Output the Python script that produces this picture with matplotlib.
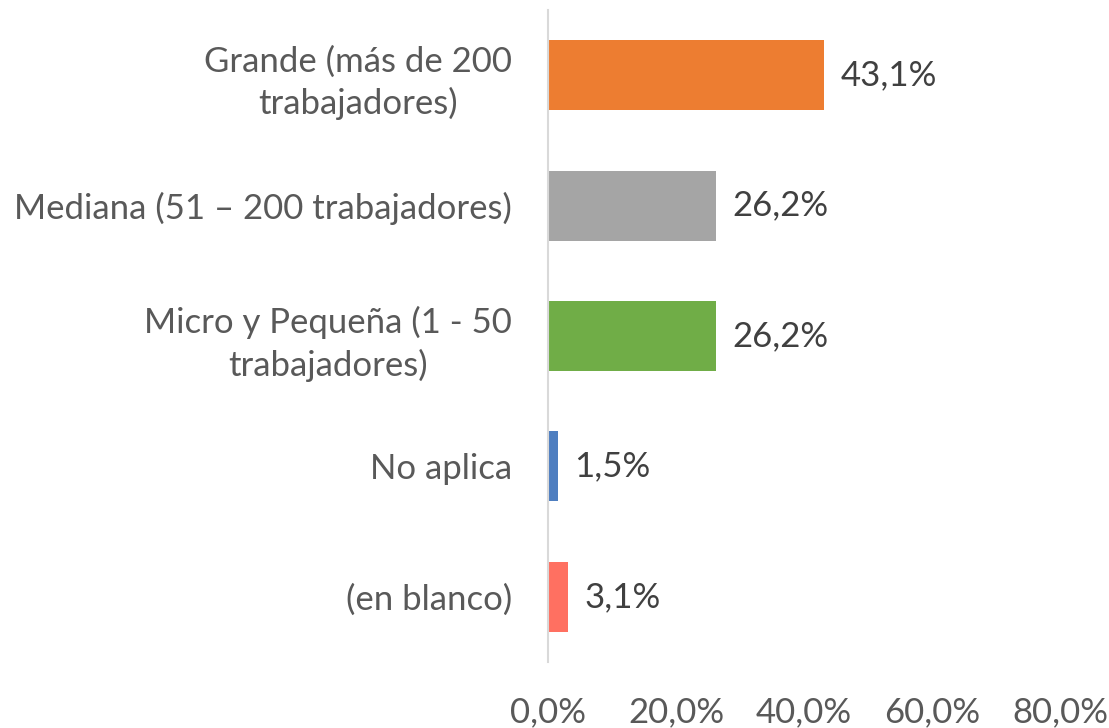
import matplotlib
matplotlib.use("Agg")
import matplotlib.pyplot as plt
from matplotlib.ticker import FuncFormatter

categories = ["Grande (más de 200\ntrabajadores)",
              "Mediana (51 – 200 trabajadores)",
              "Micro y Pequeña (1 - 50\ntrabajadores)",
              "No aplica",
              "(en blanco)"]
values = [43.1, 26.2, 26.2, 1.5, 3.1]
colors = ["#ED7D31", "#A5A5A5", "#70AD47", "#4E7EC0", "#FF7061"]
xticks = [0, 20, 40, 60, 80]

plt.rcParams['font.family'] = ['Lato', 'DejaVu Sans']

fig = plt.figure(figsize=(11.09, 7.28), dpi=100)
ax = fig.add_axes([548/1109, 1 - 662/728, (1060 - 548)/1109, (662 - 10)/728])

ypos = list(range(len(categories)))
ax.barh(ypos, values, height=0.536, color=colors)
ax.set_ylim(len(categories) - 0.5, -0.5)
ax.set_xlim(0, 80)
ax.set_xticks(xticks)
ax.xaxis.set_major_formatter(FuncFormatter(lambda v, p: f"{v:.1f}".replace(".", ",") + "%"))
ax.set_yticks(ypos)
ax.set_yticklabels(categories)
for lbl in ax.get_yticklabels():
    lbl.set_multialignment('center')
    lbl.set_linespacing(1.35)

ax.tick_params(axis='x', length=0, pad=25, labelsize=25, labelcolor="#595959")
ax.tick_params(axis='y', length=0, pad=26, labelsize=25, labelcolor="#595959")

for s in ["top", "right", "bottom"]:
    ax.spines[s].set_visible(False)
ax.spines["left"].set_color("#D9D9D9")
ax.spines["left"].set_linewidth(1.5)

for i, v in enumerate(values):
    ax.annotate(f"{v:.1f}".replace(".", ",") + "%", xy=(v, i), xytext=(12, 0),
                textcoords="offset points", va="center", ha="left",
                fontsize=25, color="#404040")

fig.savefig("out.png", dpi=100)
